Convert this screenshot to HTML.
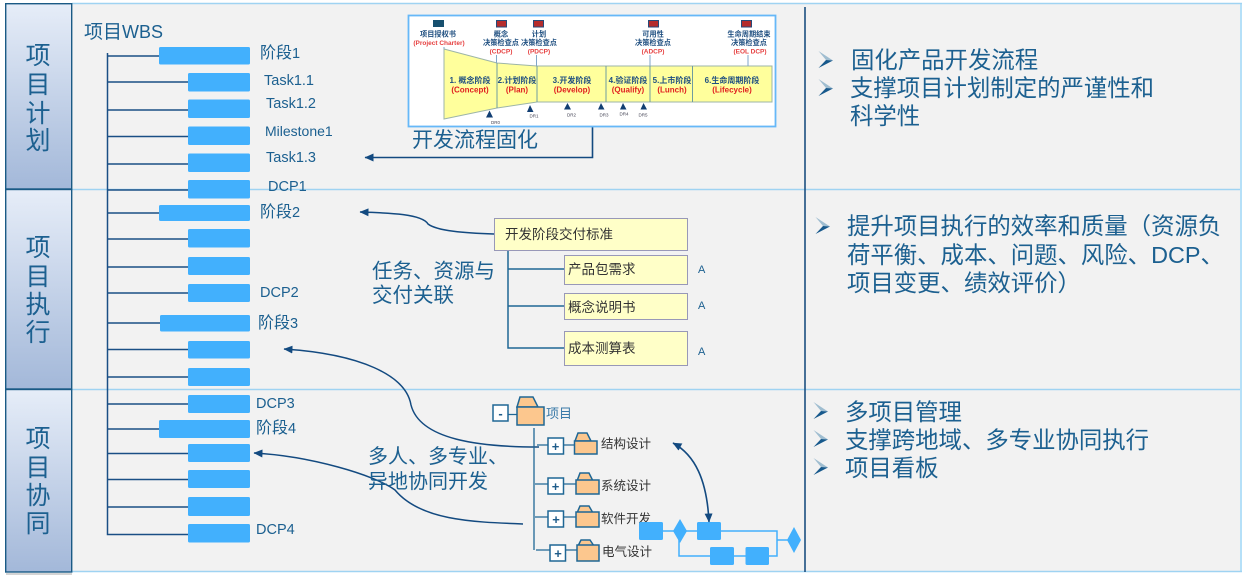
<!DOCTYPE html>
<html><head><meta charset="utf-8">
<style>
html,body{margin:0;padding:0;background:#fff;width:1242px;height:579px;overflow:hidden}
svg{display:block}
text{font-family:"Liberation Sans","Noto Sans CJK SC",sans-serif}
.b{fill:#1c6090}
.d{fill:#333}
.s{font-family:"Liberation Serif","Noto Serif CJK SC",serif}
</style></head><body>
<svg width="1242" height="579" viewBox="0 0 1242 579" xmlns="http://www.w3.org/2000/svg">
<defs>
<linearGradient id="h" x1="0" y1="0" x2="0" y2="1"><stop offset="0" stop-color="#e6edf8"/><stop offset="1" stop-color="#a3b8d9"/></linearGradient>
<marker id="a" markerUnits="userSpaceOnUse" markerWidth="10" markerHeight="10" refX="8.500" refY="5" orient="auto-start-reverse"><path d="M0 1L9 5L0 9Z" fill="#134a80"/></marker>
<g id="bl"><path d="M0.500 -9L15 0.500L8 0Z" fill="#9fbdd0"/><path d="M15 0.500L0.500 8L8 0Z" fill="#17598c"/></g>
</defs>
<!-- panel -->
<rect x="72" y="4" width="1168" height="568" fill="#f2f2f2"/>
<rect x="1240" y="4" width="2" height="568" fill="#b5e0f8"/>
<g stroke="#9fd3f2" stroke-width="1.500"><line x1="72" y1="3.500" x2="1242" y2="3.500"/><line x1="72" y1="189.500" x2="1240" y2="189.500"/><line x1="72" y1="389.500" x2="1240" y2="389.500"/><line x1="72" y1="571.500" x2="1242" y2="571.500"/></g>
<line x1="805" y1="7" x2="805" y2="572" stroke="#1c4f80" stroke-width="1.600"/>
<!-- headers -->
<rect x="6" y="573" width="66" height="2" fill="#d4d4d4"/>
<g stroke="#1a5a85" stroke-width="1.400" fill="url(#h)">
<rect x="5.700" y="3.700" width="66" height="185.300"/>
<rect x="5.700" y="189.500" width="66" height="199.500"/>
<rect x="5.700" y="389.500" width="66" height="182.500"/>
</g>
<g class="b" font-size="25" text-anchor="middle">
<text x="38" y="64">项</text><text x="38" y="93">目</text><text x="38" y="122">计</text><text x="38" y="149">划</text>
<text x="38" y="256">项</text><text x="38" y="285">目</text><text x="38" y="313">执</text><text x="38" y="341">行</text>
<text x="38" y="447">项</text><text x="38" y="476">目</text><text x="38" y="504">协</text><text x="38" y="532">同</text>
</g>
<!-- WBS -->
<text x="84" y="38" class="b" font-size="19">项目<tspan font-size="18">WBS</tspan></text>
<g stroke="#1a4f85" stroke-width="1.500" fill="none">
<path d="M107.500 53V534.500H188M107 56H159M107 82H188M107 110H188M107 136.500H188M107 164H188M107 190H188M107 213H159M107 239H188M107 267H188M107 293H188M107 323H160M107 349.500H188M107 377H188M107 404H188M107 429H159M107 453.500H188M107 479.500H188M107 507H188"/>
</g>
<g fill="#42b0fd">
<rect x="159" y="47" width="91" height="17.500" rx="1.500"/>
<rect x="188" y="73" width="62" height="18.500" rx="1.500"/>
<rect x="188" y="99.500" width="62" height="18.500" rx="1.500"/>
<rect x="188" y="126.500" width="62" height="18.500" rx="1.500"/>
<rect x="188" y="153.500" width="62" height="18.500" rx="1.500"/>
<rect x="188" y="180" width="62" height="18.500" rx="1.500"/>
<rect x="159" y="205" width="91" height="16" rx="1.500"/>
<rect x="188" y="229" width="62" height="18.500" rx="1.500"/>
<rect x="188" y="257" width="62" height="18" rx="1.500"/>
<rect x="188" y="284" width="62" height="18" rx="1.500"/>
<rect x="160" y="315" width="90" height="16.500" rx="1.500"/>
<rect x="188" y="341" width="62" height="17.500" rx="1.500"/>
<rect x="188" y="368" width="62" height="18" rx="1.500"/>
<rect x="188" y="395" width="62" height="18" rx="1.500"/>
<rect x="159" y="420" width="91" height="18" rx="1.500"/>
<rect x="188" y="444" width="62" height="18" rx="1.500"/>
<rect x="188" y="470" width="62" height="18" rx="1.500"/>
<rect x="188" y="497" width="62" height="19" rx="1.500"/>
<rect x="188" y="524" width="62" height="18.500" rx="1.500"/>
</g>
<g class="b" font-size="14.500">
<text x="260" y="58"><tspan font-size="16">阶段</tspan>1</text><text x="264" y="85">Task1.1</text><text x="266" y="108">Task1.2</text><text x="265" y="136" font-size="14">Milestone1</text><text x="266" y="162">Task1.3</text><text x="268" y="191">DCP1</text>
<text x="260" y="217"><tspan font-size="16">阶段</tspan>2</text><text x="260" y="297">DCP2</text><text x="258" y="328"><tspan font-size="16">阶段</tspan>3</text><text x="256" y="408">DCP3</text><text x="256" y="433"><tspan font-size="16">阶段</tspan>4</text><text x="256" y="534">DCP4</text>
</g>
<!-- process figure -->
<path d="M592.500 120V157.500H365" fill="none" stroke="#134a80" stroke-width="1.600" marker-end="url(#a)"/>
<rect x="408.500" y="15.500" width="367" height="111" fill="#fff" stroke="#66b8f8" stroke-width="1.800"/>
<path d="M444 49L497 63L537 66H772V102H537L497 108L444 119Z" fill="#ffff9c" stroke="#9db5a8"/>
<path d="M497 63V108M537 66V102M606 66V102M650 66V102M692.500 66V102" stroke="#6f9ca0"/>
<g fill="#1f4f80" font-size="7.200" text-anchor="middle" font-weight="bold">
<text x="438" y="36.500">项目授权书</text><text x="501" y="36.500">概念</text><text x="501" y="45">决策检查点</text><text x="539" y="36.500">计划</text><text x="539" y="45">决策检查点</text><text x="653" y="36.500">可用性</text><text x="653" y="45">决策检查点</text><text x="749" y="36.500">生命周期结束</text><text x="749" y="45">决策检查点</text>
</g>
<g fill="#e64040" font-size="6.500" text-anchor="middle" font-weight="bold" class="s">
<text x="439" y="45">(Project Charter)</text><text x="501" y="53.500">(CDCP)</text><text x="539" y="53.500">(PDCP)</text><text x="653" y="53.500">(ADCP)</text><text x="750" y="53.500">(EOL DCP)</text>
</g>
<g fill="#17506f"><rect x="433" y="20" width="11" height="7"/></g>
<g fill="#b52c2c" stroke="#264a78" stroke-width="1"><rect x="496.500" y="20.500" width="10" height="6.500"/><rect x="533.500" y="20.500" width="10" height="6.500"/><rect x="648.500" y="20.500" width="10" height="6.500"/><rect x="741.500" y="20.500" width="10" height="6.500"/></g>
<g stroke="#7fa6c8" stroke-width="1"><path d="M444 47V49M496.500 55V63M536.500 55V66M650 55V66M748 55V66"/></g>
<g fill="#1f4f80" font-size="8" text-anchor="middle" font-weight="bold">
<text x="470" y="83">1. 概念阶段</text><text x="517" y="83">2.计划阶段</text><text x="572" y="83">3.开发阶段</text><text x="628" y="83">4.验证阶段</text><text x="672" y="83">5.上市阶段</text><text x="732" y="83">6.生命周期阶段</text>
</g>
<g fill="#e02020" font-size="8" text-anchor="middle" font-weight="bold">
<text x="470" y="92.500">(Concept)</text><text x="517" y="92.500">(Plan)</text><text x="572" y="92.500">(Develop)</text><text x="628" y="92.500">(Qualify)</text><text x="672" y="92.500">(Lunch)</text><text x="732" y="92.500">(Lifecycle)</text>
</g>
<g fill="#123f73"><path d="M486 117.500L489.500 110.500L493 117.500ZM527 112L530 105L533.500 112ZM564 109.500L567.500 103L571 109.500ZM598 109.500L601 103L604.500 109.500ZM620 109.500L623 103L626.500 109.500ZM640.500 109.500L643.500 103L647 109.500Z"/></g>
<g fill="#445" font-size="4.500" text-anchor="middle"><text x="495.500" y="124">DR0</text><text x="534" y="117.500">DR1</text><text x="571.500" y="116.500">DR2</text><text x="604" y="116.500">DR3</text><text x="624" y="115.500">DR4</text><text x="643" y="116.500">DR5</text></g>
<text x="412" y="147" class="b" font-size="21">开发流程固化</text>
<!-- deliverable block -->
<path d="M494 234C465 233 437 231 428 224C422 214 390 213 360 212" fill="none" stroke="#134a80" stroke-width="1.500" marker-end="url(#a)"/>
<path d="M508 250V348H565M508 269H565M508 306H565" fill="none" stroke="#1f6795" stroke-width="1.500"/>
<g fill="#ffffc8" stroke="#9898b8" stroke-width="1">
<rect x="494.500" y="218.500" width="193" height="32"/><rect x="564.500" y="255.500" width="123" height="29"/><rect x="564.500" y="293.500" width="123" height="26"/><rect x="564.500" y="331.500" width="123" height="34"/>
</g>
<g class="d" font-size="13.500"><text x="505" y="239">开发阶段交付标准</text><text x="568" y="274">产品包需求</text><text x="568" y="312">概念说明书</text><text x="568" y="353">成本测算表</text></g>
<g class="b" font-size="11"><text x="698" y="273">A</text><text x="698" y="309">A</text><text x="698" y="355">A</text></g>
<g class="b" font-size="20.500"><text x="372" y="278">任务、资源与</text><text x="372" y="302">交付关联</text></g>
<!-- lower arrows -->
<path d="M539 447C480 447 420 440 411 405C406 375 360 354 284 349" fill="none" stroke="#134a80" stroke-width="1.500" marker-end="url(#a)"/>
<path d="M523 524C470 522 420 520 395 490C375 475 310 456 254 453" fill="none" stroke="#134a80" stroke-width="1.500" marker-end="url(#a)"/>
<g class="b" font-size="20"><text x="368" y="463">多人、多专业、</text><text x="368" y="488">异地协同开发</text></g>
<!-- tree -->
<g stroke="#1f6795" stroke-width="1.300" fill="none">
<path d="M534 428V550M508 414.500H517M537 445H548M535 484H548M535 517H548M536 550H550M564 445H574M564 484H576M564 517H576M566 550H578"/>
</g>
<g fill="#fff" stroke="#1f6795" stroke-width="1.500">
<rect x="493" y="405" width="15" height="16"/><rect x="548" y="438" width="15.500" height="16"/><rect x="548" y="478" width="15.500" height="16"/><rect x="548" y="511" width="15.500" height="16"/><rect x="550" y="545" width="15.500" height="16"/>
</g>
<g fill="#1f5c8a" font-size="13" text-anchor="middle" font-weight="bold"><text x="500.500" y="418">-</text><text x="555.500" y="451">+</text><text x="555.500" y="491">+</text><text x="556" y="524">+</text><text x="558" y="558">+</text></g>
<g fill="#fcc78e" stroke="#1f6795" stroke-width="1.500">
<path d="M517 407L520 397H533L538 407Z"/><rect x="517" y="407" width="27" height="18"/>
<path d="M575 441L578 433H587L591 441Z"/><rect x="574.500" y="441" width="22.500" height="13"/>
<path d="M577 481L580 473H589L593 481Z"/><rect x="576" y="480" width="23" height="14"/>
<path d="M577 513L580 506H589L593 513Z"/><rect x="576" y="512" width="23" height="15"/>
<path d="M578 546L581 540H590L594 546Z"/><rect x="577" y="545" width="22" height="16"/>
</g>
<g font-size="12.500" class="d"><text x="601" y="448">结构设计</text><text x="601" y="490">系统设计</text><text x="601" y="523">软件开发</text><text x="602" y="556">电气设计</text></g>
<text x="546" y="418" font-size="13" fill="#3a7aa8">项目</text>
<!-- mini network -->
<g fill="none" stroke="#42b0fd" stroke-width="1.500"><path d="M662 531H686M686 531H700M720 531H777V556H764M679 531V556H712M734 556H746M777 540H790"/></g>
<g fill="#42b0fd">
<rect x="639" y="522" width="24" height="18" rx="1.500"/>
<path d="M680 519L687 531L680 543L673 531Z"/>
<rect x="697" y="522" width="24" height="18" rx="1.500"/>
<rect x="710" y="547" width="24" height="18" rx="1.500"/>
<rect x="745.500" y="547" width="23.500" height="18" rx="1.500"/>
<path d="M794 527L801 540L794 553L787 540Z"/>
</g>
<path d="M673 443C695 455 707 480 709 522" fill="none" stroke="#134a80" stroke-width="1.600" marker-start="url(#a)" marker-end="url(#a)"/>
<!-- right column -->
<use href="#bl" x="818" y="60"/><use href="#bl" x="818" y="88"/><use href="#bl" x="815" y="226"/><use href="#bl" x="813" y="411"/><use href="#bl" x="813" y="439"/><use href="#bl" x="813" y="467"/>
<g class="b" font-size="23.400">
<text x="851" y="68">固化产品开发流程</text>
<text x="850" y="96">支撑项目计划制定的严谨性和</text>
<text x="850" y="124">科学性</text>
<text x="847" y="234">提升项目执行的效率和质量（资源负</text>
<text x="847" y="263">荷平衡、成本、问题、风险、DCP、</text>
<text x="847" y="291">项目变更、绩效评价）</text>
<text x="845" y="420">多项目管理</text>
<text x="845" y="448">支撑跨地域、多专业协同执行</text>
<text x="845" y="476">项目看板</text>
</g>
</svg>
</body></html>
